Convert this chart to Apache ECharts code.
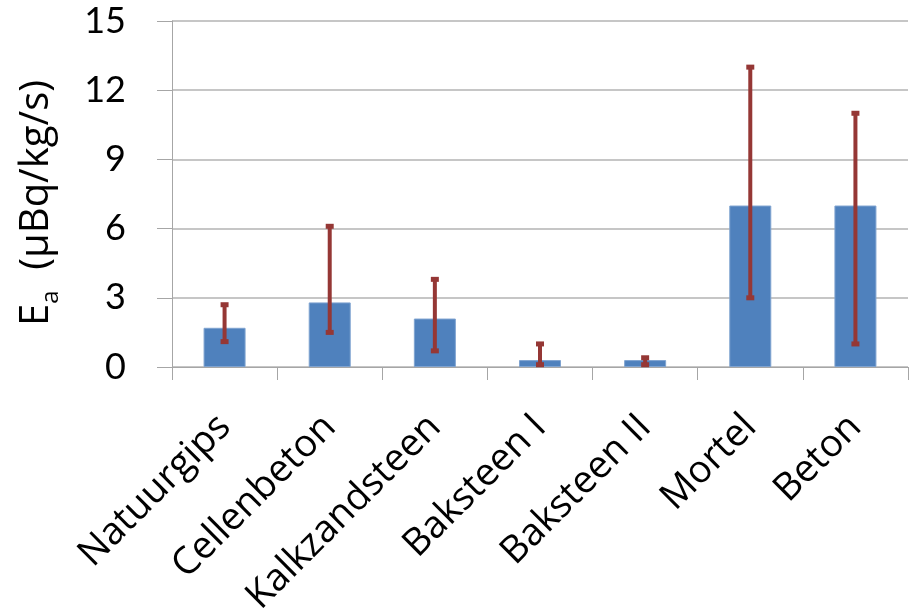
<!DOCTYPE html>
<html>
<head>
<meta charset="utf-8">
<script src="https://cdn.jsdelivr.net/npm/echarts@6/dist/echarts.min.js"></script>
<style>
  html, body { margin: 0; padding: 0; background: #fff; }
  #chart { width: 909px; height: 614px; }
</style>
</head>
<body>
<div id="chart"></div>
<script>
// Emanation rate per building material, with min/max range
const categories = ['Natuurgips', 'Cellenbeton', 'Kalkzandsteen', 'Baksteen I', 'Baksteen II', 'Mortel', 'Beton'];
const values = [1.7, 2.8, 2.1, 0.3, 0.3, 7.0, 7.0];
const rangeLow = [1.1, 1.5, 0.7, 0.1, 0.1, 3.0, 1.0];
const rangeHigh = [2.7, 6.1, 3.8, 1.0, 0.4, 13.0, 11.0];
const yTicks = { min: 0, max: 15, interval: 3 };

const FONT = 'Lato, "Open Sans", sans-serif';
const WIDE = '"Open Sans", Lato, sans-serif';
const errData = categories.map((c, i) => [i, rangeLow[i], rangeHigh[i]]);

const chart = echarts.init(document.getElementById('chart'), null, { renderer: 'canvas' });

chart.setOption({
  animation: false,
  backgroundColor: '#ffffff',
  grid: { left: 172, right: 1, top: 21, bottom: 247, containLabel: false, outerBoundsMode: 'none' },
  xAxis: {
    type: 'category',
    data: categories,
    boundaryGap: true,
    axisLine: { show: true, lineStyle: { color: '#a6a6a6', width: 1 } },
    axisTick: { show: true, length: 13, alignWithLabel: false, lineStyle: { color: '#a6a6a6' } },
    axisLabel: {
      interval: 0,
      rotate: 45,
      margin: 54,
      fontFamily: WIDE,
      fontSize: 38,
      color: '#000'
    }
  },
  yAxis: {
    type: 'value',
    min: yTicks.min,
    max: yTicks.max,
    interval: yTicks.interval,
    name: '{e|E}{sub|a}{e|  (µBq/kg/s)}',
    nameLocation: 'middle',
    nameRotate: 90,
    nameGap: 115,
    nameTextStyle: {
      padding: [0, 18, 0, 0],
      rich: {
        e: { fontFamily: WIDE, fontSize: 40, color: '#000', lineHeight: 50, verticalAlign: 'bottom' },
        sub: { fontFamily: WIDE, fontSize: 24, color: '#000', lineHeight: 50, verticalAlign: 'bottom', padding: [0, 0, -6, 0] }
      }
    },
    axisLine: { show: true, lineStyle: { color: '#a6a6a6', width: 1 } },
    axisTick: { show: true, length: 15, lineStyle: { color: '#a6a6a6' } },
    axisLabel: {
      margin: 46,
      fontFamily: FONT,
      fontSize: 36,
      color: '#000'
    },
    splitLine: { show: true, lineStyle: { color: '#b3b3b3', width: 1.5 } }
  },
  series: [
    {
      type: 'bar',
      data: values,
      barWidth: 42,
      itemStyle: { color: '#4f81bd', borderColor: '#7fa3d0', borderWidth: 1 },
      z: 2
    },
    {
      type: 'custom',
      data: errData,
      z: 3,
      renderItem: function (params, api) {
        const x = api.value(0);
        const lo = api.coord([x, api.value(1)]);
        const hi = api.coord([x, api.value(2)]);
        const capW = 8, capH = 5;
        const style = { fill: '#953735', stroke: null };
        return {
          type: 'group',
          children: [
            {
              type: 'line',
              shape: { x1: lo[0], y1: lo[1], x2: hi[0], y2: hi[1] },
              style: { stroke: '#953735', lineWidth: 4 }
            },
            {
              type: 'rect',
              shape: { x: hi[0] - capW / 2, y: hi[1] - capH / 2, width: capW, height: capH },
              style: style
            },
            {
              type: 'rect',
              shape: { x: lo[0] - capW / 2, y: lo[1] - capH / 2, width: capW, height: capH },
              style: style
            }
          ]
        };
      }
    }
  ]
});
</script>
</body>
</html>
